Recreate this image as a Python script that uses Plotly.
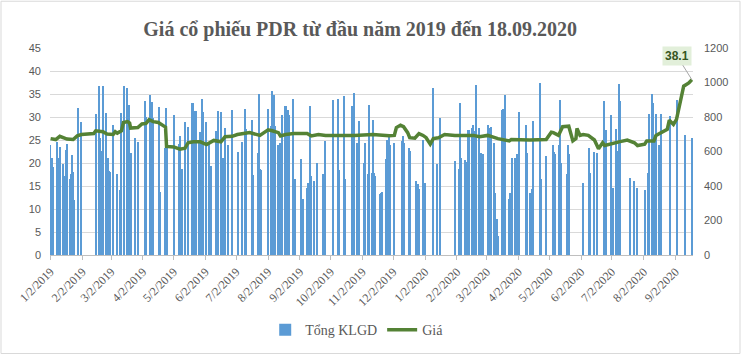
import plotly.graph_objects as go
import pandas as pd

# ---- data ----
tick_labels = ["1/2/2019", "2/2/2019", "3/2/2019", "4/2/2019", "5/2/2019", "6/2/2019",
               "7/2/2019", "8/2/2019", "9/2/2019", "10/2/2019", "11/2/2019", "12/2/2019",
               "1/2/2020", "2/2/2020", "3/2/2020", "4/2/2020", "5/2/2020", "6/2/2020",
               "7/2/2020", "8/2/2020", "9/2/2020"]

vol_dates = [
    "2019-01-02", "2019-01-03", "2019-01-04", "2019-01-08", "2019-01-09", "2019-01-10", "2019-01-11",
    "2019-01-14", "2019-01-15", "2019-01-16", "2019-01-17", "2019-01-18", "2019-01-21", "2019-01-22",
    "2019-01-23", "2019-01-24", "2019-01-25", "2019-01-29", "2019-02-01", "2019-02-15", "2019-02-18",
    "2019-02-19", "2019-02-20", "2019-02-22", "2019-02-25", "2019-02-27", "2019-02-28", "2019-03-01",
    "2019-03-04", "2019-03-08", "2019-03-11", "2019-03-12", "2019-03-15", "2019-03-18", "2019-03-19",
    "2019-03-20", "2019-03-21", "2019-03-25", "2019-03-28", "2019-04-04", "2019-04-05", "2019-04-09",
    "2019-04-10", "2019-04-11", "2019-04-12", "2019-04-18", "2019-04-19", "2019-04-24", "2019-04-25",
    "2019-04-26", "2019-05-02", "2019-05-07", "2019-05-08", "2019-05-09", "2019-05-10", "2019-05-13",
    "2019-05-16", "2019-05-20", "2019-05-21", "2019-05-22", "2019-05-24", "2019-05-27", "2019-05-28",
    "2019-05-29", "2019-05-30", "2019-05-31", "2019-06-03", "2019-06-05", "2019-06-07", "2019-06-12",
    "2019-06-14", "2019-06-17", "2019-06-19", "2019-06-21", "2019-06-24", "2019-06-28", "2019-07-04",
    "2019-07-08", "2019-07-11", "2019-07-12", "2019-07-17", "2019-07-18", "2019-07-23", "2019-07-24",
    "2019-07-25", "2019-07-26", "2019-08-02", "2019-08-05", "2019-08-06", "2019-08-07", "2019-08-08",
    "2019-08-09", "2019-08-12", "2019-08-14", "2019-08-16", "2019-08-19", "2019-08-20", "2019-08-21",
    "2019-08-22", "2019-08-26", "2019-08-28", "2019-09-03", "2019-09-05", "2019-09-09", "2019-09-10",
    "2019-09-12", "2019-09-13", "2019-09-16", "2019-09-19", "2019-09-25", "2019-09-27", "2019-10-04",
    "2019-10-09", "2019-10-10", "2019-10-15", "2019-10-16", "2019-10-23", "2019-10-25", "2019-10-28",
    "2019-10-30", "2019-11-04", "2019-11-05", "2019-11-07", "2019-11-08", "2019-11-11", "2019-11-12",
    "2019-11-13", "2019-11-14", "2019-11-19", "2019-11-20", "2019-11-21", "2019-11-25", "2019-11-26",
    "2019-11-28", "2019-11-29", "2019-12-03", "2019-12-11", "2019-12-12", "2019-12-13", "2019-12-17",
    "2019-12-18", "2019-12-24", "2019-12-26", "2019-12-27", "2019-12-31", "2020-01-02", "2020-01-10",
    "2020-01-14", "2020-01-17", "2020-01-31", "2020-02-04", "2020-02-05", "2020-02-06", "2020-02-10",
    "2020-02-11", "2020-02-13", "2020-02-14", "2020-02-17", "2020-02-18", "2020-02-19", "2020-02-21",
    "2020-02-24", "2020-02-26", "2020-02-27", "2020-02-28", "2020-03-03", "2020-03-05", "2020-03-06",
    "2020-03-09", "2020-03-10", "2020-03-12", "2020-03-13", "2020-03-17", "2020-03-18", "2020-03-19",
    "2020-03-20", "2020-03-24", "2020-03-25", "2020-03-26", "2020-03-27", "2020-03-30", "2020-04-01",
    "2020-04-03", "2020-04-09", "2020-04-10", "2020-04-13", "2020-04-15", "2020-04-16", "2020-04-23",
    "2020-04-24", "2020-04-29", "2020-05-06", "2020-05-07", "2020-05-08", "2020-05-12", "2020-05-13",
    "2020-05-14", "2020-05-19", "2020-05-20", "2020-05-21", "2020-06-04", "2020-06-10", "2020-06-11",
    "2020-06-15", "2020-06-18", "2020-06-24", "2020-06-25", "2020-06-26", "2020-07-01", "2020-07-03",
    "2020-07-06", "2020-07-08", "2020-07-09", "2020-07-10", "2020-07-20", "2020-07-24", "2020-07-27",
    "2020-08-03", "2020-08-06", "2020-08-07", "2020-08-10", "2020-08-11", "2020-08-13", "2020-08-14",
    "2020-08-17", "2020-08-18", "2020-08-19", "2020-08-28", "2020-09-04", "2020-09-11", "2020-09-18"]

vol_values = [
    640, 560, 510, 655, 290, 565, 625,
    525, 460, 445, 610, 645, 440, 470,
    580, 480, 320, 855, 770, 816, 979,
    680, 605, 979, 821, 560, 488, 480,
    755, 472, 379, 821, 981, 967, 840,
    872, 592, 680, 656, 890, 800, 928,
    645, 885, 795, 859, 368, 621, 853,
    648, 811, 645, 688, 437, 496, 771,
    741, 880, 880, 832, 832, 653, 715,
    608, 907, 827, 771, 656, 517, 720,
    835, 827, 560, 736, 635, 843, 597,
    656, 845, 733, 781, 461, 592, 935,
    496, 492, 846, 746, 948, 842, 927,
    746, 640, 650, 813, 865, 861, 842,
    813, 904, 438, 554, 323, 390, 419,
    865, 458, 429, 531, 467, 658, 896,
    906, 490, 919, 438, 861, 938, 650,
    775, 531, 650, 467, 871, 477, 785,
    477, 458, 352, 362, 365, 554, 669,
    688, 640, 650, 658, 688, 650, 621,
    602, 429, 410, 385, 669, 419, 967,
    525, 794, 544, 496, 881, 565, 550,
    542, 727, 727, 737, 756, 717, 986,
    737, 592, 487, 588, 756, 737, 742,
    650, 362, 208, 112, 842, 846, 327,
    929, 327, 362, 188, 563, 563, 583,
    829, 756, 592, 362, 381, 779, 1000,
    438, 573, 640, 596, 583, 640, 900,
    535, 467, 635, 583, 419, 621, 477,
    596, 592, 890, 438, 727, 813, 390,
    731, 602, 992, 894, 448, 429, 390,
    375, 477, 819, 935, 881, 698, 819,
    638, 612, 819, 808, 900, 698, 681]

price_dates = [
    "2019-01-02", "2019-01-07", "2019-01-11", "2019-01-15", "2019-01-18", "2019-01-24", "2019-01-28",
    "2019-02-01", "2019-02-11", "2019-02-13", "2019-02-15", "2019-02-20", "2019-02-22", "2019-02-26",
    "2019-03-04", "2019-03-06", "2019-03-08", "2019-03-12", "2019-03-14", "2019-03-18", "2019-03-20",
    "2019-03-21", "2019-03-28", "2019-04-01", "2019-04-05", "2019-04-08", "2019-04-12", "2019-04-17",
    "2019-04-22", "2019-04-24", "2019-04-25", "2019-05-02", "2019-05-08", "2019-05-13", "2019-05-16",
    "2019-05-21", "2019-05-28", "2019-06-03", "2019-06-10", "2019-06-17", "2019-06-21", "2019-06-28",
    "2019-07-03", "2019-07-09", "2019-07-15", "2019-07-25", "2019-08-02", "2019-08-06", "2019-08-12",
    "2019-08-14", "2019-08-19", "2019-08-27", "2019-09-09", "2019-09-13", "2019-09-20", "2019-09-27",
    "2019-10-10", "2019-10-25", "2019-11-12", "2019-11-19", "2019-11-28", "2019-12-03", "2019-12-05",
    "2019-12-09", "2019-12-12", "2019-12-16", "2019-12-18", "2019-12-23", "2019-12-27", "2019-12-31",
    "2020-01-03", "2020-01-07", "2020-01-10", "2020-01-15", "2020-01-21", "2020-01-31", "2020-02-05",
    "2020-02-11", "2020-02-18", "2020-02-24", "2020-03-03", "2020-03-10", "2020-03-13", "2020-03-24",
    "2020-03-26", "2020-04-13", "2020-04-29", "2020-05-04", "2020-05-06", "2020-05-11", "2020-05-15",
    "2020-05-21", "2020-05-25", "2020-05-28", "2020-05-29", "2020-06-01", "2020-06-04", "2020-06-09",
    "2020-06-15", "2020-06-19", "2020-06-23", "2020-06-25", "2020-07-02", "2020-07-09", "2020-07-17",
    "2020-07-24", "2020-07-27", "2020-08-03", "2020-08-05", "2020-08-12", "2020-08-14", "2020-08-20",
    "2020-08-25", "2020-08-27", "2020-08-31", "2020-09-03", "2020-09-07", "2020-09-10", "2020-09-15",
    "2020-09-18"]

price_values = [
    25.3, 25.1, 25.8, 25.5, 25.2, 25.1, 25.9,
    26.2, 26.3, 26.4, 27.0, 26.8, 26.8, 26.3,
    26.2, 26.8, 26.5, 27.0, 28.8, 29.0, 28.7,
    27.6, 27.7, 28.5, 28.6, 29.4, 29.0, 28.8,
    28.2, 27.8, 23.6, 23.5, 23.0, 23.2, 24.4,
    24.6, 24.6, 24.0, 24.9, 24.6, 25.7, 25.8,
    26.2, 26.4, 26.6, 26.0, 27.2, 27.0, 26.6,
    25.9, 26.2, 26.4, 26.4, 25.9, 26.2, 26.0,
    26.0, 26.0, 26.2, 26.0, 25.9, 26.0, 27.7,
    28.2, 27.9, 26.6, 25.5, 25.4, 26.4, 26.0,
    25.5, 24.1, 25.3, 25.5, 26.2, 26.0, 26.0,
    25.9, 26.0, 25.7, 26.0, 25.5, 25.3, 24.8,
    25.1, 25.0, 25.1, 26.7, 26.6, 26.0, 27.9,
    28.0, 24.8, 25.3, 27.5, 26.0, 26.2, 26.0,
    25.0, 23.1, 24.4, 23.8, 24.3, 24.6, 25.0,
    24.4, 23.8, 24.1, 24.8, 24.8, 26.0, 26.7,
    27.3, 29.3, 28.4, 29.5, 33.5, 36.7, 37.4,
    38.1]

title_text = "Giá cổ phiếu PDR từ đầu năm 2019 đến 18.09.2020"
vol_name = "Tổng KLGD"
price_name = "Giá"

# ---- figure ----
tick_vals = pd.to_datetime(tick_labels, format="%m/%d/%Y")
GRAY = "#595959"
SERIF = "Liberation Serif"
SANS = "Liberation Sans"

fig = go.Figure()
fig.add_trace(go.Bar(
    x=pd.to_datetime(vol_dates), y=vol_values, name=vol_name,
    marker=dict(color="#5B9BD5", line=dict(width=0)),
    width=1.2 * 86400000, yaxis="y"))
fig.add_trace(go.Scatter(
    x=pd.to_datetime(price_dates), y=price_values, name=price_name,
    mode="lines", line=dict(color="#548235", width=3.5), yaxis="y2"))

fig.update_layout(
    width=741, height=357,
    margin=dict(l=50, r=48, t=48, b=101),
    paper_bgcolor="white", plot_bgcolor="white",
    title=dict(text="<b>" + title_text + "</b>", x=0.486, xanchor="center",
               y=1 - 29 / 357, yanchor="middle",
               font=dict(family=SERIF, size=20, color=GRAY)),
    showlegend=True,
    legend=dict(orientation="h", x=0.477, xanchor="center", y=-0.356, yanchor="middle",
                font=dict(family=SERIF, size=14, color=GRAY), itemwidth=30,
                traceorder="normal"),
    bargap=0,
    xaxis=dict(type="date", range=["2019-01-01 10:00", "2020-09-19 02:00"],
               tickvals=tick_vals, ticktext=tick_labels, tickangle=-45,
               tickfont=dict(family=SERIF, size=12, color=GRAY),
               showgrid=False, showline=True, linecolor="#BFBFBF", linewidth=1,
               ticks="outside", ticklen=4, tickcolor="#BFBFBF", zeroline=False),
    yaxis=dict(side="right", range=[0, 1200], dtick=200, showgrid=False,
               zeroline=False, showline=False,
               tickfont=dict(family=SANS, size=11, color=GRAY), ticklabelstandoff=10),
    yaxis2=dict(side="left", overlaying="y", range=[0, 45], dtick=5,
                showgrid=True, gridcolor="#D9D9D9", gridwidth=1,
                zeroline=False, showline=False,
                tickfont=dict(family=SANS, size=11, color=GRAY), ticklabelstandoff=8),
)

fig.add_annotation(
    x=pd.to_datetime(price_dates[-1]), y=price_values[-1], xref="x", yref="y2",
    text="<b>%.1f</b>" % price_values[-1], showarrow=True, arrowhead=0,
    arrowcolor="#A6A6A6", arrowwidth=1, ax=-15, ay=-24,
    bgcolor="#E2EFDA", borderpad=2,
    font=dict(family=SANS, size=12, color="#375623"))

fig.add_shape(type="rect", xref="paper", yref="paper",
              x0=(1 - 50) / 643, x1=(740 - 50) / 643,
              y0=(256 - 355) / 208, y1=(256 - 1) / 208,
              line=dict(color="#D9D9D9", width=1), fillcolor="rgba(0,0,0,0)", layer="below")

fig.write_html("out.html", config={"displayModeBar": False},
               post_script="document.body.style.margin='0';document.body.style.padding='0';")
